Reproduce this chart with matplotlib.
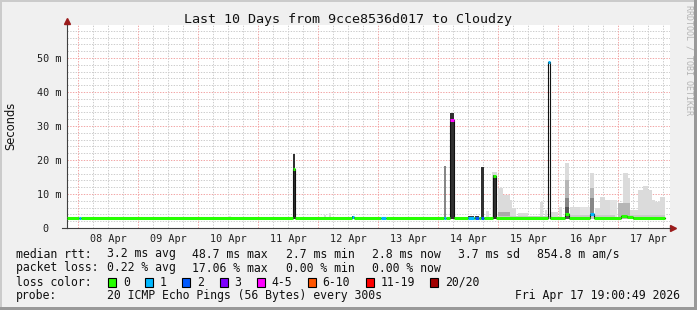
import numpy as np
import matplotlib
matplotlib.use("Agg")
import matplotlib.pyplot as plt
from matplotlib.patches import Rectangle

# x axis is day of April (float), y is seconds in ms ("m")
day_ticks = [8, 9, 10, 11, 12, 13, 14, 15, 16, 17]
day_labels = ["08 Apr", "09 Apr", "10 Apr", "11 Apr", "12 Apr",
              "13 Apr", "14 Apr", "15 Apr", "16 Apr", "17 Apr"]
t_start = 7.817
t_end = 17.783

# median rtt, one step per segment start (value in ms, loss index)
med_t = [7.817, 8.017, 8.05, 11.583, 11.617, 12.567, 12.6, 13.05, 13.133,
         14.1, 14.133, 14.2, 14.267, 14.5, 14.6, 14.617, 14.683, 14.717,
         14.767, 14.917, 14.967, 15.833, 15.867, 16.117, 16.183, 16.533,
         16.6, 17.05, 17.15, 17.25]
med_v = [2.8, 2.8, 2.8, 17.5, 2.8, 3.3, 2.8, 2.8, 2.8,
         2.8, 2.8, 31.8, 2.8, 3.0, 2.8, 2.8, 2.8, 2.8,
         2.8, 15.2, 2.8, 48.7, 2.8, 4.1, 2.8, 4.1,
         2.8, 3.5, 3.2, 2.8]
med_loss = [0, 1, 0, 0, 0, 1, 0, 1, 0,
            1, 0, 4, 0, 1, 0, 2, 0, 2,
            0, 0, 0, 1, 0, 0, 0, 1,
            0, 0, 0, 0]

# smoke: start, end, max ping (ms), density of pings
smoke_t0 = [10.25, 10.5, 10.62, 11.583, 12.1, 12.18, 12.567, 14.1, 14.2,
            14.5, 14.617, 14.717, 14.8, 14.9, 14.917,
            15.0, 15.083, 15.2, 15.233, 15.333, 15.0, 15.7, 15.783, 15.883,
            16.017, 16.117, 16.117, 16.117, 16.117, 16.2, 16.367,
            16.533, 16.533, 16.533, 16.617, 16.7, 16.783, 16.867,
            17.0, 17.083, 17.167, 17.0, 17.2, 17.333, 17.417, 17.5,
            17.567, 17.617, 17.7, 15.0, 16.2, 17.2]
smoke_t1 = [10.3, 10.55, 10.67, 11.617, 12.13, 12.22, 12.6, 14.133, 14.267,
            14.6, 14.683, 14.767, 14.85, 14.983, 14.967,
            15.083, 15.2, 15.233, 15.3, 15.5, 15.2, 15.75, 15.817, 16.0,
            16.067, 16.183, 16.183, 16.183, 16.183, 16.367, 16.533,
            16.6, 16.6, 16.6, 16.7, 16.783, 16.867, 16.983,
            17.083, 17.167, 17.2, 17.2, 17.333, 17.417, 17.5, 17.567,
            17.617, 17.7, 17.783, 15.9, 16.95, 17.783]
smoke_hi = [3.3, 3.4, 3.3, 21.8, 3.8, 4.3, 3.6, 18.2, 33.8,
            3.5, 3.6, 18.0, 5.0, 16.6, 15.6,
            11.8, 9.7, 8.2, 5.9, 4.4, 4.8, 7.7, 5.3, 4.8,
            6.3, 19.0, 14.0, 8.8, 6.3, 6.3, 6.3,
            16.1, 11.8, 8.8, 5.8, 9.2, 8.2, 8.2,
            5.0, 16.1, 14.7, 7.4, 5.3, 11.2, 12.4, 11.2,
            8.2, 7.7, 9.2, 3.6, 3.7, 3.8]
smoke_dens = [0.12, 0.12, 0.12, 0.85, 0.15, 0.15, 0.9, 0.5, 0.85,
              0.8, 0.8, 0.85, 0.15, 0.15, 0.85,
              0.15, 0.15, 0.15, 0.15, 0.15, 0.35, 0.15, 0.15, 0.15,
              0.15, 0.15, 0.3, 0.5, 0.7, 0.15, 0.12,
              0.15, 0.3, 0.5, 0.15, 0.15, 0.15, 0.12,
              0.15, 0.15, 0.15, 0.3, 0.15, 0.15, 0.15, 0.15,
              0.15, 0.15, 0.15, 0.22, 0.22, 0.22]
smoke_lo = 2.6

loss_colors = ["#26ff00", "#00b8ff", "#0059ff", "#7e00ff", "#ff00ff",
               "#ff5500", "#ff0000", "#a10000"]
loss_names = ["0", "1", "2", "3", "4-5", "6-10", "11-19", "20/20"]

stats_rtt = ["3.2 ms avg", "48.7 ms max", "2.7 ms min", "2.8 ms now",
             "3.7 ms sd", "854.8 m am/s"]
stats_loss = ["0.22 % avg", "17.06 % max", "0.00 % min", "0.00 % now"]

MONO = "DejaVu Sans Mono"
W, H = 697, 310

fig = plt.figure(figsize=(W / 100, H / 100), dpi=100)
fig.patch.set_facecolor("#f0f0f0")

def fx(px):
    return px / W

def fy(py):
    return 1 - py / H

# frame shading
fig.add_artist(Rectangle((0, 0), fx(2), 1, transform=fig.transFigure, color="#cbcbcb", lw=0))
fig.add_artist(Rectangle((0, fy(2)), 1, 2 / H, transform=fig.transFigure, color="#cbcbcb", lw=0))
fig.add_artist(Rectangle((fx(694), 0), 3 / W, 1, transform=fig.transFigure, color="#999999", lw=0))
fig.add_artist(Rectangle((0, 0), 1, 3 / H, transform=fig.transFigure, color="#999999", lw=0))

x0, x1, ytop, ybot = 67, 670, 25, 228
ax = fig.add_axes([fx(x0), fy(ybot), (x1 - x0) / W, (ybot - ytop) / H])
ax.set_facecolor("white")
xmin = t_start
xmax = t_start + (x1 - x0) / 60.0
ymax = (ybot - ytop) / 3.4
ax.set_xlim(xmin, xmax)
ax.set_ylim(0, ymax)

# grid
dots = (0, (1.4, 1.4))
for v in np.arange(2, ymax, 2):
    if v % 10 != 0:
        ax.axhline(v, color="#cccccc", lw=0.7, ls=dots, zorder=0)
for v in range(10, 60, 10):
    ax.axhline(v, color="#f2a4a4", lw=0.7, ls=dots, zorder=0)
for d in np.arange(7.75, xmax, 0.25):
    if d > xmin and d % 1 != 0:
        ax.axvline(d, color="#cccccc", lw=0.7, ls=dots, zorder=0)
for d in day_ticks:
    ax.axvline(d, color="#f2a4a4", lw=0.7, ls=dots, zorder=0)

# smoke
for a, b, hi, dn in zip(smoke_t0, smoke_t1, smoke_hi, smoke_dens):
    g = 1 - dn * 0.95
    ax.bar(a, hi - smoke_lo, bottom=smoke_lo, width=b - a, align="edge",
           color=(g, g, g), lw=0, zorder=2)

# median: black steps then loss colored segments
edges = med_t + [t_end]
xs, ys = [], []
for i, v in enumerate(med_v):
    xs += [edges[i], edges[i + 1]]
    ys += [v, v]
ax.plot(xs, ys, color="#111111", lw=0.8, zorder=3)
for i, v in enumerate(med_v):
    ax.plot([edges[i], edges[i + 1]], [v, v], color=loss_colors[med_loss[i]],
            lw=2.2, solid_capstyle="butt", zorder=4)

# axes
for s in ["top", "right"]:
    ax.spines[s].set_visible(False)
ax.spines["left"].set_color("#404040")
ax.spines["bottom"].set_color("#404040")
ax.spines["left"].set_linewidth(0.8)
ax.spines["bottom"].set_linewidth(0.8)
ax.plot([xmin, xmin], [ymax, ymax + 1.3], color="#404040", lw=0.8, clip_on=False)
ax.plot([xmin - 5 / 60, xmin], [0, 0], color="#404040", lw=0.8, clip_on=False)
ax.plot([xmax, xmax + 2 / 60], [0, 0], color="#404040", lw=0.8, clip_on=False)
ax.plot([xmin], [ymax + 1.2], marker="^", ms=4.5, color="#9b1c1c", mec="#9b1c1c", clip_on=False)
ax.plot([xmax + 3 / 60], [0], marker=">", ms=4.5, color="#9b1c1c", mec="#9b1c1c", clip_on=False)

ax.set_yticks(range(0, 60, 10))
ax.set_yticklabels(["0  "] + ["%d m" % v for v in range(10, 60, 10)],
                   fontfamily=MONO, fontsize=7.3, color="#202020")
ax.set_xticks([d + 0.5 for d in day_ticks])
ax.set_xticklabels(day_labels, fontfamily=MONO, fontsize=7.3, color="#202020")
ax.tick_params(axis="y", length=0, pad=4.3)
ax.tick_params(axis="x", length=0, pad=4.0)

# texts
fig.text(0.5, fy(19), "Last 10 Days from 9cce8536d017 to Cloudzy", ha="center", va="center",
         fontfamily=MONO, fontsize=9.6, color="#111111")
fig.text(fx(10.5), fy(126), "Seconds", rotation=90, ha="center", va="center",
         fontsize=8.3, color="#111111")
fig.text(fx(689), fy(60), "RRDTOOL / TOBI OETIKER", rotation=270, ha="center", va="center",
         fontfamily=MONO, fontsize=6.0, color="#b4b4b4")

fs = 8.3
col = "#111111"
fig.text(fx(16), fy(254), "median rtt:", va="center", fontfamily=MONO, fontsize=fs, color=col)
for px, s in zip([107, 192, 286, 372, 458, 537], stats_rtt):
    fig.text(fx(px), fy(254), s, va="center", fontfamily=MONO, fontsize=fs, color=col)
fig.text(fx(16), fy(268), "packet loss:", va="center", fontfamily=MONO, fontsize=fs, color=col)
for px, s in zip([107, 192, 286, 372], stats_loss):
    fig.text(fx(px), fy(268), s, va="center", fontfamily=MONO, fontsize=fs, color=col)
fig.text(fx(16), fy(282), "loss color:", va="center", fontfamily=MONO, fontsize=fs, color=col)
for px, c, name in zip([108, 145, 182, 219.5, 256.5, 307.5, 366, 430], loss_colors, loss_names):
    fig.add_artist(Rectangle((fx(px), fy(286.5)), 8 / W, 8.3 / H, transform=fig.transFigure,
                             facecolor=c, edgecolor="black", lw=0.8))
    fig.text(fx(px + 15), fy(282), name, va="center", fontfamily=MONO, fontsize=fs, color=col)
fig.text(fx(16), fy(296), "probe:", va="center", fontfamily=MONO, fontsize=fs, color=col)
fig.text(fx(107), fy(296), "20 ICMP Echo Pings (56 Bytes) every 300s", va="center",
         fontfamily=MONO, fontsize=fs, color=col)
fig.text(fx(680), fy(296), "Fri Apr 17 19:00:49 2026", ha="right", va="center",
         fontfamily=MONO, fontsize=fs, color=col)

fig.savefig("out.png", dpi=100, facecolor=fig.get_facecolor())
